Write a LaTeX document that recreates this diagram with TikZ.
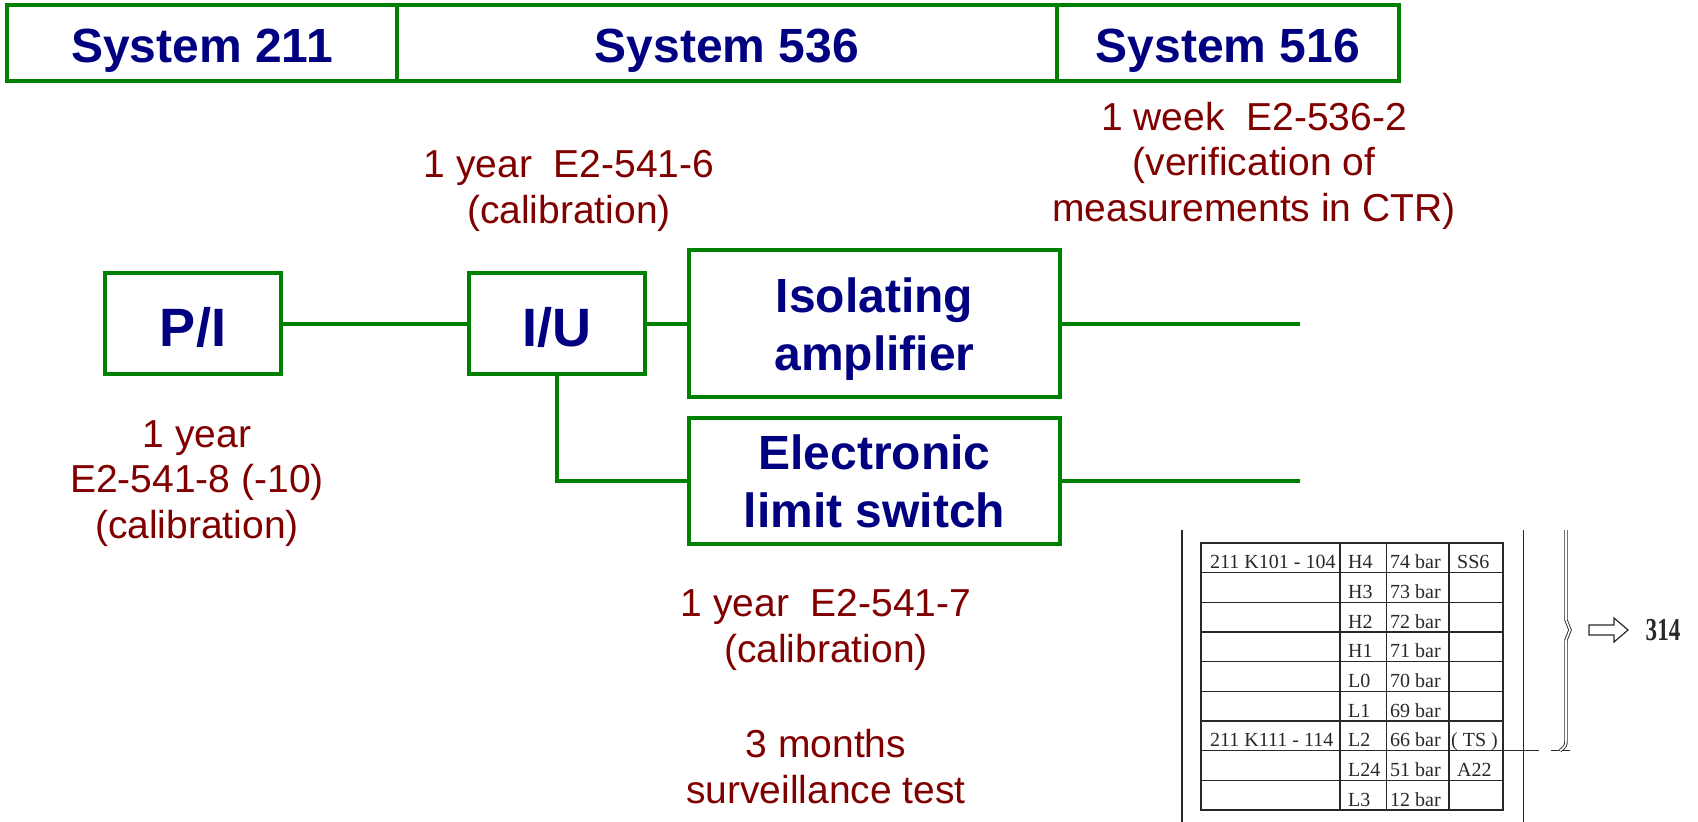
\documentclass[tikz,border=0pt]{standalone}
\usepackage{fontspec}
\setmainfont{Liberation Sans}
\newfontfamily\scanfont{Liberation Serif}
\definecolor{boxgreen}{RGB}{0,128,0}
\definecolor{titleblue}{RGB}{0,0,128}
\definecolor{notered}{RGB}{128,0,0}
\definecolor{scanink}{RGB}{40,40,40}

\begin{document}
\begin{tikzpicture}[x=1pt,y=-1pt]

      \tikzset{sysbox/.style={draw=boxgreen, line width=4.5pt, inner sep=0pt, minimum height=76pt, text height=38pt, text depth=0pt, text=titleblue, font=\fontsize{48}{56}\selectfont\bfseries}}
      \tikzset{unit/.style={draw=boxgreen, line width=4.5pt, inner sep=0pt, align=center, text=titleblue, font=\fontsize{48}{58}\selectfont\bfseries}}
      \tikzset{note/.style={anchor=base, align=center, inner sep=0pt, text=notered, font=\fontsize{39}{45.5}\selectfont}}
      \tikzset{wire/.style={draw=boxgreen, line width=4pt}}
      \tikzset{cell/.style={anchor=base west, inner sep=0pt, text=scanink, font=\scanfont\fontsize{20}{24}\selectfont}}
      \tikzset{rule/.style={draw=scanink, line width=1.4pt}}

      \useasboundingbox (0,0) rectangle (1698,822);

%% Systems
      	\node[sysbox, minimum width=390pt] (s211) at (202,43) {System 211};
      	\node[sysbox, minimum width=660pt] (s536) at (727,43) {System 536};
      	\node[sysbox, minimum width=342pt] (s516) at (1228,43) {System 516};

%% Units
      	\node[unit, minimum width=176pt, minimum height=101pt, text height=46pt, text depth=0pt, font=\fontsize{54}{60}\selectfont\bfseries] (pi) at (193,323.5) {P/I};
      	\node[unit, minimum width=176pt, minimum height=101pt, text height=46pt, text depth=0pt, font=\fontsize{54}{60}\selectfont\bfseries] (iu) at (557,323.5) {I/U};
      	\node[unit, minimum width=371pt, minimum height=147pt, text height=93pt, text depth=0pt] (iso) at (874.5,323.5) {Isolating\\amplifier};
      	\node[unit, minimum width=371pt, minimum height=126pt, text height=93pt, text depth=0pt] (els) at (874.5,481) {Electronic\\limit switch};
      	\coordinate (isoend) at (1300,323.5);
      	\coordinate (elsend) at (1300,481);

%Wires
		\draw[wire] (pi) -- (iu);
		\draw[wire] (iu) -- (iso);
		\draw[wire] (iu.south) |- (els.west);
		\draw[wire] (iso) -- (isoend);
		\draw[wire] (els) -- (elsend);

%% Intervals
      	\node[note] (yearsix) at (569,223) {1 year\ \ E2-541-6\\(calibration)};
      	\node[note] (weektwo) at (1254,221) {1 week\ \ E2-536-2\\(verification of\\measurements in CTR)};
      	\node[note] (yeareight) at (197,538) {1 year\\E2-541-8 (-10)\\(calibration)};
      	\node[note] (yearseven) at (826,662) {1 year\ \ E2-541-7\\(calibration)};
      	\node[note] (months) at (826,803) {3 months\\surveillance test};

%Table
		\draw[rule] (1182,530) -- (1182,822);
		\draw[rule] (1523.5,530) -- (1523.5,822);
		\draw[rule] (1201,543) rectangle (1503,810);
		\draw[rule] (1340,543) -- (1340,810) (1386.5,543) -- (1386.5,810) (1449,543) -- (1449,810);
		\draw[rule] (1201,572.7) -- (1503,572.7) (1201,602.3) -- (1503,602.3) (1201,632) -- (1503,632) (1201,661.7) -- (1503,661.7)
		            (1201,691.3) -- (1503,691.3) (1201,721) -- (1503,721) (1201,750.7) -- (1503,750.7) (1201,780.3) -- (1503,780.3);
		\draw[rule] (1503,750.7) -- (1539,750.7) (1551,750.7) -- (1570,750.7);
		\draw[draw=scanink, line width=0.9pt, double=white, double distance=1.6pt] (1566,530) -- (1566,620) -- (1570,630) -- (1566,640) -- (1566,738) .. controls (1566,746) .. (1560,750.7);
		\draw[draw=scanink, line width=1.2pt, fill=white] (1589,625) -- (1614,625) -- (1614,618) -- (1628,630) -- (1614,642) -- (1614,635) -- (1589,635) -- cycle;
      	\node[inner sep=0pt, text=scanink, font=\scanfont\bfseries\fontsize{32}{36}\selectfont] (ref314) at (1663,630) {\scalebox{0.72}[1]{314}};

      	\node[cell] (k101) at (1210,568.7) {211 K101 - 104};
      	\node[cell] (h4) at (1348,568.7) {H4};
      	\node[cell] (b74) at (1390,568.7) {74 bar};
      	\node[cell] (ss6) at (1457,568.7) {SS6};
      	\node[cell] (h3) at (1348,598.3) {H3};
      	\node[cell] (b73) at (1390,598.3) {73 bar};
      	\node[cell] (h2) at (1348,628) {H2};
      	\node[cell] (b72) at (1390,628) {72 bar};
      	\node[cell] (h1) at (1348,657.7) {H1};
      	\node[cell] (b71) at (1390,657.7) {71 bar};
      	\node[cell] (l0) at (1348,687.3) {L0};
      	\node[cell] (b70) at (1390,687.3) {70 bar};
      	\node[cell] (l1) at (1348,717) {L1};
      	\node[cell] (b69) at (1390,717) {69 bar};
      	\node[cell] (k111) at (1210,746.7) {211 K111 - 114};
      	\node[cell] (l2) at (1348,746.7) {L2};
      	\node[cell] (b66) at (1390,746.7) {66 bar};
      	\node[cell] (ts) at (1451,746.7) {( TS )};
      	\node[cell] (l24) at (1348,776.3) {L24};
      	\node[cell] (b51) at (1390,776.3) {51 bar};
      	\node[cell] (a22) at (1457,776.3) {A22};
      	\node[cell] (l3) at (1348,806) {L3};
      	\node[cell] (b12) at (1390,806) {12 bar};

	\end{tikzpicture}
\end{document}
